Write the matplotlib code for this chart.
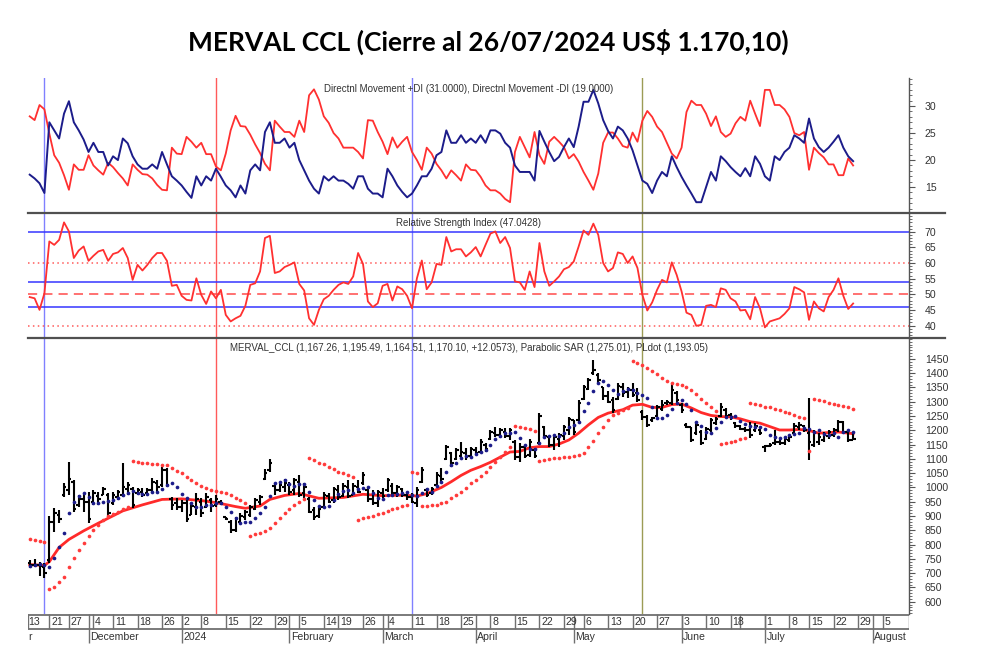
import numpy as np
import pandas as pd
import matplotlib
matplotlib.use("Agg")
import matplotlib.pyplot as plt
from matplotlib.lines import Line2D
from matplotlib import font_manager

# ---------------- DATA ----------------
HOLIDAYS = ["2023-11-20", "2023-12-08", "2023-12-25", "2024-01-01", "2024-02-12", "2024-02-13",
            "2024-03-28", "2024-03-29", "2024-04-01", "2024-04-02", "2024-05-01", "2024-06-17",
            "2024-06-20", "2024-06-21", "2024-07-09"]
FIRST_DAY = "2023-11-14"
LAST_DAY = "2024-07-26"

di_red = [28.1, 27.4, 30.2, 29.4,
          24.9, 20.9, 19.5, 17.2, 14.5, 19.2, 18.2, 18.2, 20.9, 19.0,
          18.1, 17.3, 19.5, 18.7, 17.6, 16.6, 15.3, 19.2, 18.2, 17.4,
          17.3, 16.6, 15.4, 14.5, 14.4, 22.3, 21.2, 21.1, 24.3, 23.4,
          22.3, 23.2, 21.1, 21.1, 18.8, 18.1, 21.2, 25.5, 28.2, 26.3,
          26.2, 24.7, 22.9, 21.3, 19.3, 18.1, 27.3, 26.2, 25.2, 25.2,
          24.3, 27.3, 25.2, 32.0, 33.1, 31.2, 28.1, 26.9, 25.0, 24.0,
          22.3, 22.3, 22.3, 21.5, 20.3, 27.4, 27.3, 25.2, 23.4, 21.1,
          24.2, 22.3, 23.4, 24.3, 21.5, 20.0, 18.2, 22.3, 21.2, 19.3,
          18.1, 16.6, 18.1, 17.2, 16.2, 19.2, 18.2, 18.1, 16.9, 15.3,
          14.4, 14.4, 13.8, 12.8, 12.2, 21.5, 24.3, 22.4, 20.5, 25.2,
          20.9, 19.3, 23.4, 24.3, 23.4, 22.4, 20.3, 21.1, 19.7, 17.8,
          16.2, 14.5, 17.5, 23.2, 25.1, 25.1, 24.0, 22.6, 22.3, 25.1,
          23.4, 27.3, 29.1, 28.0, 26.2, 25.2, 23.2, 21.2, 20.3, 22.3,
          28.9, 31.0, 30.2, 30.2, 28.6, 26.3, 28.1, 25.2, 24.3, 24.9,
          26.8, 28.0, 27.3, 31.0, 28.6, 26.3, 33.0, 33.0, 30.2, 30.2,
          29.4, 28.0, 25.0, 24.6, 25.2, 18.2, 22.3, 21.3, 20.5, 19.2,
          19.2, 17.2, 17.2, 20.3, 19.0]

di_blue = [17.3, 16.6, 15.7, 13.9,
           27.0, 25.5, 24.0, 28.6, 30.9, 27.0, 25.5, 23.8, 21.5, 23.2,
           21.5, 21.5, 19.0, 20.7, 20.0, 24.0, 23.1, 20.7, 19.2, 18.4,
           18.4, 19.2, 18.4, 21.5, 19.2, 17.0, 16.2, 15.3, 14.1, 13.0,
           17.0, 15.3, 17.0, 16.2, 18.4, 16.9, 15.3, 14.4, 13.1, 15.3,
           13.8, 18.1, 19.2, 18.1, 25.2, 27.0, 23.2, 23.2, 24.0, 22.3,
           23.2, 20.0, 18.1, 16.2, 14.7, 13.8, 17.0, 16.2, 17.0, 16.2,
           16.2, 15.6, 14.7, 17.0, 17.0, 14.7, 13.8, 13.8, 13.1, 18.4,
           17.0, 15.3, 14.1, 13.1, 13.8, 15.3, 17.0, 17.0, 18.4, 20.9,
           21.5, 25.5, 23.2, 23.2, 24.6, 23.2, 24.0, 23.2, 24.6, 23.2,
           25.5, 25.5, 24.9, 23.2, 22.3, 19.0, 17.8, 17.8, 17.8, 16.2,
           25.4, 23.4, 21.5, 19.8, 20.6, 22.4, 24.0, 22.4, 26.2, 30.8,
           30.8, 33.0, 30.5, 27.4, 25.4, 24.0, 26.2, 25.5, 24.0, 21.8,
           19.0, 16.2, 15.6, 13.9, 16.2, 17.8, 17.0, 20.7, 18.7, 16.9,
           15.3, 13.8, 12.2, 12.2, 15.0, 17.8, 16.2, 20.7, 19.8, 18.7,
           17.8, 17.0, 18.5, 17.0, 20.7, 19.3, 17.0, 16.2, 20.7, 20.0,
           21.5, 22.3, 24.6, 24.0, 23.2, 27.7, 24.0, 22.4, 21.5, 22.3,
           23.4, 24.6, 22.3, 20.7, 19.8]

rsi = [49.1, 48.7, 45.0, 50.3,
       66.9, 65.8, 67.4, 73.0, 70.1, 61.6, 64.0, 65.3, 60.7, 62.3,
       63.7, 64.2, 60.7, 62.9, 63.4, 64.8, 61.6, 54.6, 59.4, 57.6,
       59.4, 61.6, 63.2, 63.2, 60.7, 52.7, 53.0, 49.5, 48.2, 48.0,
       55.1, 49.8, 46.9, 50.9, 48.7, 51.4, 43.4, 41.3, 42.3, 43.1,
       46.3, 53.0, 53.5, 57.3, 68.0, 68.7, 56.8, 57.3, 58.7, 59.4,
       60.2, 53.3, 51.2, 42.3, 40.2, 45.0, 48.4, 49.5, 51.4, 53.0,
       53.8, 53.3, 55.7, 63.2, 59.7, 47.7, 45.9, 47.1, 52.7, 53.3,
       48.0, 52.5, 51.6, 49.5, 45.5, 55.1, 60.8, 51.6, 53.8, 59.7,
       59.4, 68.3, 63.7, 64.4, 64.4, 62.1, 63.4, 65.1, 62.1, 65.8,
       69.4, 70.1, 66.4, 68.3, 64.8, 54.1, 53.8, 51.4, 57.3, 52.3,
       66.4, 57.3, 52.7, 54.1, 55.7, 58.0, 58.7, 60.5, 65.3, 70.4,
       69.0, 72.6, 69.0, 60.0, 57.3, 58.4, 63.4, 62.9, 60.0, 62.1,
       58.4, 49.8, 44.8, 47.4, 51.4, 54.6, 53.8, 60.2, 56.2, 50.9,
       44.1, 43.4, 39.9, 40.2, 46.3, 46.6, 45.9, 51.9, 51.4, 48.7,
       47.7, 44.8, 45.0, 42.0, 49.1, 45.5, 39.4, 41.3, 41.8, 42.3,
       43.7, 45.5, 52.3, 51.6, 50.6, 41.8, 47.7, 45.5, 44.5, 49.1,
       51.4, 55.1, 49.5, 45.3, 47.04]

opens = [735, 728, 730, 720,
         745, 880, 905, 975, 990, 1020, 940, 960, 950, 950,
         970, 975, 975, 945, 965, 975, 995, 995, 980, 985,
         980, 990, 1015, 1010, 1060, 960, 945, 930, 945, 905,
         930, 950, 930, 955, 940, 950, 895, 880, 850, 880,
         895, 905, 925, 950, 1030, 1060, 1005, 990, 1000, 1010,
         990, 1020, 980, 960, 920, 900, 930, 970, 955, 990,
         970, 1000, 975, 1000, 1015, 990, 960, 945, 980, 990,
         1005, 980, 995, 975, 965, 945, 1020, 990, 980, 1010,
         1040, 1100, 1120, 1100, 1110, 1120, 1110, 1130, 1125, 1150,
         1170, 1190, 1185, 1195, 1180, 1160, 1105, 1140, 1115, 1130,
         1155, 1210, 1175, 1150, 1170, 1180, 1200, 1235, 1235, 1310,
         1345, 1400, 1395, 1350, 1320, 1305, 1310, 1350, 1335, 1340,
         1330, 1265, 1245, 1235, 1250, 1275, 1295, 1295, 1330, 1290,
         1220, 1210, 1190, 1195, 1170, 1200, 1225, 1250, 1270, 1255,
         1225, 1215, 1205, 1200, 1200, 1200, 1140, 1145, 1155, 1160,
         1155, 1165, 1190, 1210, 1215, 1190, 1150, 1160, 1165, 1180,
         1185, 1200, 1230, 1195, 1167.26]

highs = [746, 748, 740, 734,
         900, 927, 921, 1014, 1090, 1026, 974, 980, 985, 991,
         985, 1003, 980, 985, 991, 1085, 1020, 1003, 997, 997,
         997, 1032, 1026, 1073, 1067, 968, 962, 956, 956, 945,
         980, 962, 980, 962, 975, 956, 898, 886, 898, 909,
         921, 939, 962, 974, 1065, 1098, 1014, 1020, 1028, 1020,
         1032, 1044, 1014, 968, 933, 935, 985, 982, 1003, 1009,
         1014, 1026, 1014, 1026, 1055, 997, 991, 991, 997, 1032,
         1014, 1009, 997, 985, 980, 1003, 1073, 997, 1003, 1055,
         1067, 1149, 1125, 1137, 1160, 1137, 1143, 1143, 1169, 1155,
         1201, 1213, 1207, 1207, 1207, 1166, 1155, 1149, 1169, 1137,
         1262, 1215, 1180, 1184, 1190, 1219, 1248, 1236, 1306, 1359,
         1382, 1446, 1400, 1353, 1336, 1318, 1365, 1365, 1353, 1365,
         1347, 1271, 1254, 1248, 1289, 1306, 1306, 1365, 1336, 1295,
         1225, 1213, 1230, 1201, 1213, 1242, 1248, 1295, 1277, 1260,
         1230, 1219, 1213, 1230, 1227, 1204, 1149, 1157, 1201, 1169,
         1178, 1184, 1225, 1230, 1219, 1312, 1201, 1190, 1195, 1201,
         1207, 1236, 1234, 1201, 1195.49]

lows = [717, 723, 690, 682,
        735, 845, 874, 968, 974, 915, 933, 915, 874, 939,
        939, 974, 898, 939, 956, 968, 974, 927, 974, 968,
        974, 980, 985, 1003, 1003, 921, 921, 915, 880, 904,
        904, 898, 927, 915, 933, 939, 886, 840, 845, 874,
        886, 898, 921, 939, 1026, 1055, 974, 985, 985, 974,
        974, 968, 962, 909, 886, 892, 927, 944, 944, 956,
        968, 962, 974, 980, 1009, 950, 939, 933, 962, 985,
        974, 968, 968, 956, 944, 933, 1014, 968, 974, 1003,
        1014, 1096, 1073, 1096, 1102, 1096, 1108, 1114, 1120, 1125,
        1166, 1178, 1172, 1172, 1166, 1096, 1090, 1102, 1108, 1102,
        1149, 1172, 1143, 1131, 1143, 1166, 1184, 1184, 1230, 1306,
        1341, 1394, 1365, 1306, 1295, 1260, 1306, 1318, 1312, 1318,
        1300, 1236, 1213, 1230, 1248, 1266, 1289, 1289, 1295, 1260,
        1207, 1160, 1184, 1149, 1166, 1195, 1219, 1248, 1242, 1236,
        1207, 1201, 1195, 1172, 1195, 1184, 1125, 1143, 1149, 1149,
        1149, 1160, 1184, 1201, 1195, 1096, 1143, 1149, 1160, 1169,
        1178, 1195, 1190, 1160, 1164.51]

closes = [728, 730, 725, 700,
          880, 910, 890, 1000, 1030, 925, 960, 950, 890, 980,
          960, 995, 910, 975, 985, 1000, 1010, 940, 990, 975,
          990, 1020, 1000, 1060, 1010, 940, 930, 945, 890, 935,
          960, 910, 965, 935, 960, 945, 890, 850, 890, 900,
          915, 930, 955, 965, 1050, 1085, 990, 1010, 1015, 985,
          1025, 975, 1000, 915, 895, 925, 975, 950, 995, 965,
          1005, 970, 1005, 985, 1045, 960, 945, 985, 970, 1025,
          980, 1000, 975, 965, 950, 990, 1060, 975, 995, 1045,
          1030, 1140, 1085, 1130, 1125, 1105, 1135, 1120, 1160, 1135,
          1195, 1185, 1200, 1180, 1200, 1105, 1140, 1110, 1160, 1110,
          1250, 1180, 1150, 1175, 1185, 1210, 1240, 1195, 1295, 1350,
          1375, 1410, 1375, 1320, 1300, 1270, 1355, 1330, 1345, 1325,
          1305, 1245, 1220, 1242, 1280, 1290, 1300, 1340, 1305, 1270,
          1212, 1165, 1220, 1155, 1205, 1235, 1240, 1280, 1250, 1245,
          1215, 1205, 1200, 1185, 1215, 1190, 1145, 1150, 1160, 1155,
          1170, 1175, 1215, 1220, 1200, 1160, 1190, 1175, 1185, 1195,
          1200, 1230, 1195, 1165, 1170.10]

sar = [818, 815, 812, 808,
       643, 653, 670, 688, 723, 752, 781, 804, 830, 851, 869, 886, 900, 907, 915, 923, 933,
       1094, 1090, 1087, 1085, 1082, 1081, 1079, 1078,
       1067, 1059, 1050, 1038, 1026, 1017, 1005, 997, 990, 988, 985, 980, 972, 963, 955, 947,
       830, 836, 842, 849, 857, 874, 894, 909, 924, 939, 950, 958,
       1102, 1096, 1087, 1081, 1073, 1064, 1055, 1050, 1044, 1038,
       886, 892, 898, 901, 906, 912, 919, 923, 929, 935, 939,
       1055, 1050,
       935, 935, 937, 940, 944,
       950, 962, 974, 985, 997, 1014, 1026, 1040, 1055, 1073, 1090, 1108, 1125, 1140,
       1215, 1213, 1207, 1204, 1199,
       1094, 1096, 1099, 1102, 1104, 1106, 1108, 1110, 1114, 1122, 1141, 1164, 1190, 1213,
       1236, 1252, 1262, 1270, 1278,
       1444, 1437, 1429, 1417, 1406, 1396, 1384, 1373, 1367, 1363, 1360, 1352, 1340, 1326,
       1310, 1296, 1282, 1268,
       1152, 1157, 1160, 1164, 1169, 1173,
       1295, 1291, 1287, 1283, 1280, 1275, 1271, 1265, 1260, 1254, 1248, 1242,
       1129,
       1309, 1305, 1301, 1297, 1293, 1289, 1285, 1280, 1275.01]

pldot = [725, 728, 732, 728,
         720, 752, 790, 842, 912, 950, 970, 982, 968, 947,
         947, 950, 954, 956, 962, 974, 980, 989, 982, 977,
         977, 985, 985, 993, 1009, 1014, 1003, 977, 962, 944,
         933, 933, 939, 939, 944, 944, 933, 915, 892, 877,
         880, 880, 892, 910, 930, 970, 1014, 1020, 1026, 1012,
         1005, 1012, 1012, 985, 956, 935, 930, 935, 956, 977,
         989, 991, 982, 993, 997, 1000, 980, 962, 958, 974,
         974, 977, 982, 985, 974, 970, 982, 993, 985, 1005,
         1020, 1055, 1079, 1085, 1102, 1110, 1108, 1117, 1125, 1131,
         1149, 1169, 1180, 1190, 1192, 1195, 1172, 1149, 1134, 1134,
         1155, 1176, 1180, 1184, 1180, 1192, 1213, 1219, 1230, 1266,
         1297, 1336, 1365, 1371, 1359, 1341, 1327, 1336, 1344, 1341,
         1332, 1325, 1312, 1281, 1242, 1242, 1254, 1274, 1297, 1306,
         1292, 1271, 1230, 1215, 1195, 1192, 1207, 1230, 1246, 1248,
         1250, 1234, 1222, 1215, 1213, 1211, 1204, 1184, 1176, 1172,
         1176, 1184, 1187, 1192, 1207, 1204, 1195, 1201, 1187, 1184,
         1190, 1176, 1195, 1201, 1193.05]

ma_dates = ["2023-11-14", "2023-11-17", "2023-11-21", "2023-11-23", "2023-11-27", "2023-11-30",
            "2023-12-05", "2023-12-07", "2023-12-13", "2023-12-19", "2023-12-26", "2024-01-02",
            "2024-01-08", "2024-01-11", "2024-01-17", "2024-01-19", "2024-01-24", "2024-01-26",
            "2024-01-31", "2024-02-05", "2024-02-09", "2024-02-20", "2024-02-26", "2024-03-01",
            "2024-03-07", "2024-03-12", "2024-03-14", "2024-03-19", "2024-03-21", "2024-03-25",
            "2024-03-27", "2024-04-04", "2024-04-08", "2024-04-10", "2024-04-12", "2024-04-16",
            "2024-04-18", "2024-04-22", "2024-04-24", "2024-04-26", "2024-04-30", "2024-05-03",
            "2024-05-07", "2024-05-09", "2024-05-13", "2024-05-16", "2024-05-20", "2024-05-22",
            "2024-05-24", "2024-05-28", "2024-05-30", "2024-06-03", "2024-06-05", "2024-06-07",
            "2024-06-11", "2024-06-13", "2024-06-18", "2024-06-24", "2024-06-26", "2024-06-28",
            "2024-07-02", "2024-07-04", "2024-07-08", "2024-07-11", "2024-07-15", "2024-07-17",
            "2024-07-19", "2024-07-23", "2024-07-26"]
ma_values = [730, 727, 740, 790, 818, 848,
             875, 892, 918, 939, 958, 960,
             954, 947, 933, 927, 935, 958,
             972, 979, 962, 965, 976, 971,
             973, 970, 978, 1000, 1020, 1042,
             1060, 1073, 1088, 1106, 1124, 1126,
             1139, 1143, 1143, 1152, 1166, 1190,
             1219, 1245, 1260, 1272, 1288, 1291,
             1280, 1280, 1290, 1292, 1278, 1262,
             1252, 1248, 1247, 1240, 1230, 1225,
             1213, 1201, 1201, 1203, 1199, 1190,
             1192, 1194, 1188]

event_dates = ["2023-11-17", "2024-01-11", "2024-03-11", "2024-05-22"]
event_colors = ["#8080ff", "#ff5a5a", "#8080ff", "#9c9c55"]

day_ticks = ["2023-11-13", "2023-11-21", "2023-11-27", "2023-12-04", "2023-12-11", "2023-12-18",
             "2023-12-26", "2024-01-02", "2024-01-08", "2024-01-15", "2024-01-22", "2024-01-29",
             "2024-02-05", "2024-02-14", "2024-02-19", "2024-02-26", "2024-03-04", "2024-03-11",
             "2024-03-18", "2024-03-25", "2024-04-08", "2024-04-15", "2024-04-22", "2024-04-29",
             "2024-05-06", "2024-05-13", "2024-05-20", "2024-05-27", "2024-06-03", "2024-06-10",
             "2024-06-18", "2024-07-01", "2024-07-08", "2024-07-15", "2024-07-22", "2024-07-29",
             "2024-08-05"]
blank_ticks = ["2024-06-24"]
month_names = {12: "December", 1: "2024", 2: "February", 3: "March", 4: "April",
               5: "May", 6: "June", 7: "July", 8: "August"}
first_month_tail = "r"   # visible tail of "November" at the left edge

TITLE = "MERVAL CCL (Cierre al 26/07/2024 US$ 1.170,10)"
DI_LABEL = "Directnl Movement +DI (31.0000), Directnl Movement -DI (19.0000)"
RSI_LABEL = "Relative Strength Index (47.0428)"
MAIN_LABEL = ("MERVAL_CCL (1,167.26, 1,195.49, 1,164.51, 1,170.10, +12.0573), "
              "Parabolic SAR (1,275.01), PLdot (1,193.05)")

# ---------------- helpers ----------------
def pick(names):
    for nm in names:
        try:
            font_manager.findfont(font_manager.FontProperties(family=nm), fallback_to_default=False)
            return nm
        except Exception:
            pass
    return "DejaVu Sans"

NARROW = pick(["Liberation Sans Narrow", "Arial Narrow", "Liberation Sans"])
TITLEF = pick(["Lato", "Open Sans", "Liberation Sans"])
plt.rcParams["font.family"] = [NARROW, "DejaVu Sans"]

cal = pd.bdate_range("2023-11-01", "2024-08-16", freq="C", holidays=HOLIDAYS)
pos = {d: k for k, d in enumerate(cal)}
def P(s):
    return pos[pd.Timestamp(s)]

data_dates = cal[(cal >= pd.Timestamp(FIRST_DAY)) & (cal <= pd.Timestamp(LAST_DAY))]
n = min(len(data_dates), len(closes))
x = np.array([pos[d] for d in data_dates[:n]], dtype=float)
def arr(a):
    return np.asarray(a[:n], dtype=float)

XL = P("2023-11-13") + 0.65
XR = P("2024-08-05") + 5.4

W, H = 981, 670
fig = plt.figure(figsize=(W / 100, H / 100), dpi=100)
LEFT, RIGHT = 28, 909

def add_ax(top, bottom):
    return fig.add_axes([LEFT / W, 1 - bottom / H, (RIGHT - LEFT) / W, (bottom - top) / H])

ax1 = add_ax(78, 213)
ax2 = add_ax(213, 338)
ax3 = add_ax(338, 614)
axd = add_ax(614, 644)

NAVY = "#1c1c8a"
RED = "#ff3030"
AXC = "#555555"
TXC = "#333333"

for ax in (ax1, ax2, ax3):
    ax.set_xlim(XL, XR)
    ax.set_xticks([])
    for s in ("left", "top", "bottom"):
        ax.spines[s].set_visible(False)
    ax.spines["right"].set_color(AXC)
    ax.spines["right"].set_linewidth(1.0)
    ax.yaxis.tick_right()
    ax.tick_params(axis="y", which="major", length=4.2, width=0.8, colors=AXC,
                   labelcolor=TXC, labelsize=7.6, pad=7.2)
    ax.tick_params(axis="y", which="minor", length=2.2, width=0.6, colors=AXC)
    ax.patch.set_alpha(0)
    for d, col in zip(event_dates, event_colors):
        ax.axvline(P(d), color=col, lw=1.0, zorder=1)

# ---- DI panel ----
ax1.set_ylim(10.2, 35.2)
ax1.set_yticks([15, 20, 25, 30])
ax1.set_yticks(np.arange(11, 36, 1), minor=True)
ax1.plot(x, arr(di_red), color=RED, lw=1.3, zorder=3)
ax1.plot(x, arr(di_blue), color=NAVY, lw=1.4, zorder=3)
ax1.text(0.5, 0.918, DI_LABEL, transform=ax1.transAxes, ha="center", va="center",
         fontsize=7, color=TXC)

# ---- RSI panel ----
ax2.set_ylim(36, 76)
ax2.set_yticks([40, 45, 50, 55, 60, 65, 70])
ax2.set_yticks(np.arange(36, 77, 1), minor=True)
for lv in (70, 54, 46):
    ax2.axhline(lv, color="#3535ff", lw=1.1, zorder=2)
for lv in (60, 40):
    ax2.axhline(lv, color="#ff5a5a", lw=1.1, ls=(0, (1, 2.2)), zorder=2)
ax2.axhline(50, color="#ff4a4a", lw=1.1, ls=(0, (6, 4)), zorder=2)
ax2.plot(x, arr(rsi), color=RED, lw=1.3, zorder=3)
ax2.text(0.5, 0.92, RSI_LABEL, transform=ax2.transAxes, ha="center", va="center",
         fontsize=7, color=TXC)

# ---- Main price panel ----
ax3.set_ylim(557, 1523)
ax3.set_yticks(np.arange(600, 1451, 50))
ax3.set_yticks(np.arange(560, 1521, 10), minor=True)
o, h, l, c = arr(opens), arr(highs), arr(lows), arr(closes)
ax3.vlines(x, l, h, color="black", lw=1.5, zorder=4)
ax3.hlines(o, x - 0.5, x, color="black", lw=1.5, zorder=4)
ax3.hlines(c, x, x + 0.5, color="black", lw=1.5, zorder=4)
ax3.scatter(x, arr(sar), s=7, color="#ff3b3b", linewidths=0, zorder=5)
ax3.scatter(x, arr(pldot), s=7, color=NAVY, linewidths=0, zorder=5)
ma_x = [P(d) for d in ma_dates]
ax3.plot(ma_x, ma_values, color="#ff2a2a", lw=2.0, zorder=3)
ax3.text(0.5, 0.964, MAIN_LABEL, transform=ax3.transAxes, ha="center", va="center",
         fontsize=7, color=TXC)

# ---- Date axis ----
axd.set_xlim(XL, XR)
axd.set_ylim(30, 0)
axd.axis("off")
GR = "#707070"
axd.hlines([0.5, 15], XL, XR, color=GR, lw=1.3)
for d in day_ticks + blank_ticks:
    if P(d) > XL:
        axd.vlines(P(d), 0, 15, color=GR, lw=1.0)
for d in day_ticks:
    xp = max(P(d) + 0.35, XL + 0.05)
    axd.text(xp, 7.8, str(pd.Timestamp(d).day), ha="left", va="center",
             fontsize=7.6, color=TXC)
axd.vlines(XL + 0.05, 0, 15, color=GR, lw=1.0)
axd.vlines(XR - 0.05, 0, 15, color=GR, lw=1.0)
months = pd.Series(cal).groupby([cal.year, cal.month]).first()
for m in months:
    if m.month not in month_names:
        continue
    p = pos[m]
    axd.vlines(p, 0, 29, color=GR, lw=1.0)
    axd.text(p + 0.35, 22.5, month_names[m.month], ha="left", va="center",
             fontsize=7.6, color=TXC)
axd.text(XL + 0.05, 22.5, first_month_tail, ha="left", va="center", fontsize=7.6, color=TXC)

# ---- separators and title ----
for yy in (213, 338):
    fig.add_artist(Line2D([LEFT / W, 945 / W], [1 - yy / H, 1 - yy / H], color="#505050",
                          lw=1.6, transform=fig.transFigure))

fig.text(488.5 / W, 1 - 42 / H, TITLE, ha="center", va="center", fontsize=19,
         fontweight="bold", family=[TITLEF, "DejaVu Sans"], color="black")

fig.savefig("out.png", dpi=100)
